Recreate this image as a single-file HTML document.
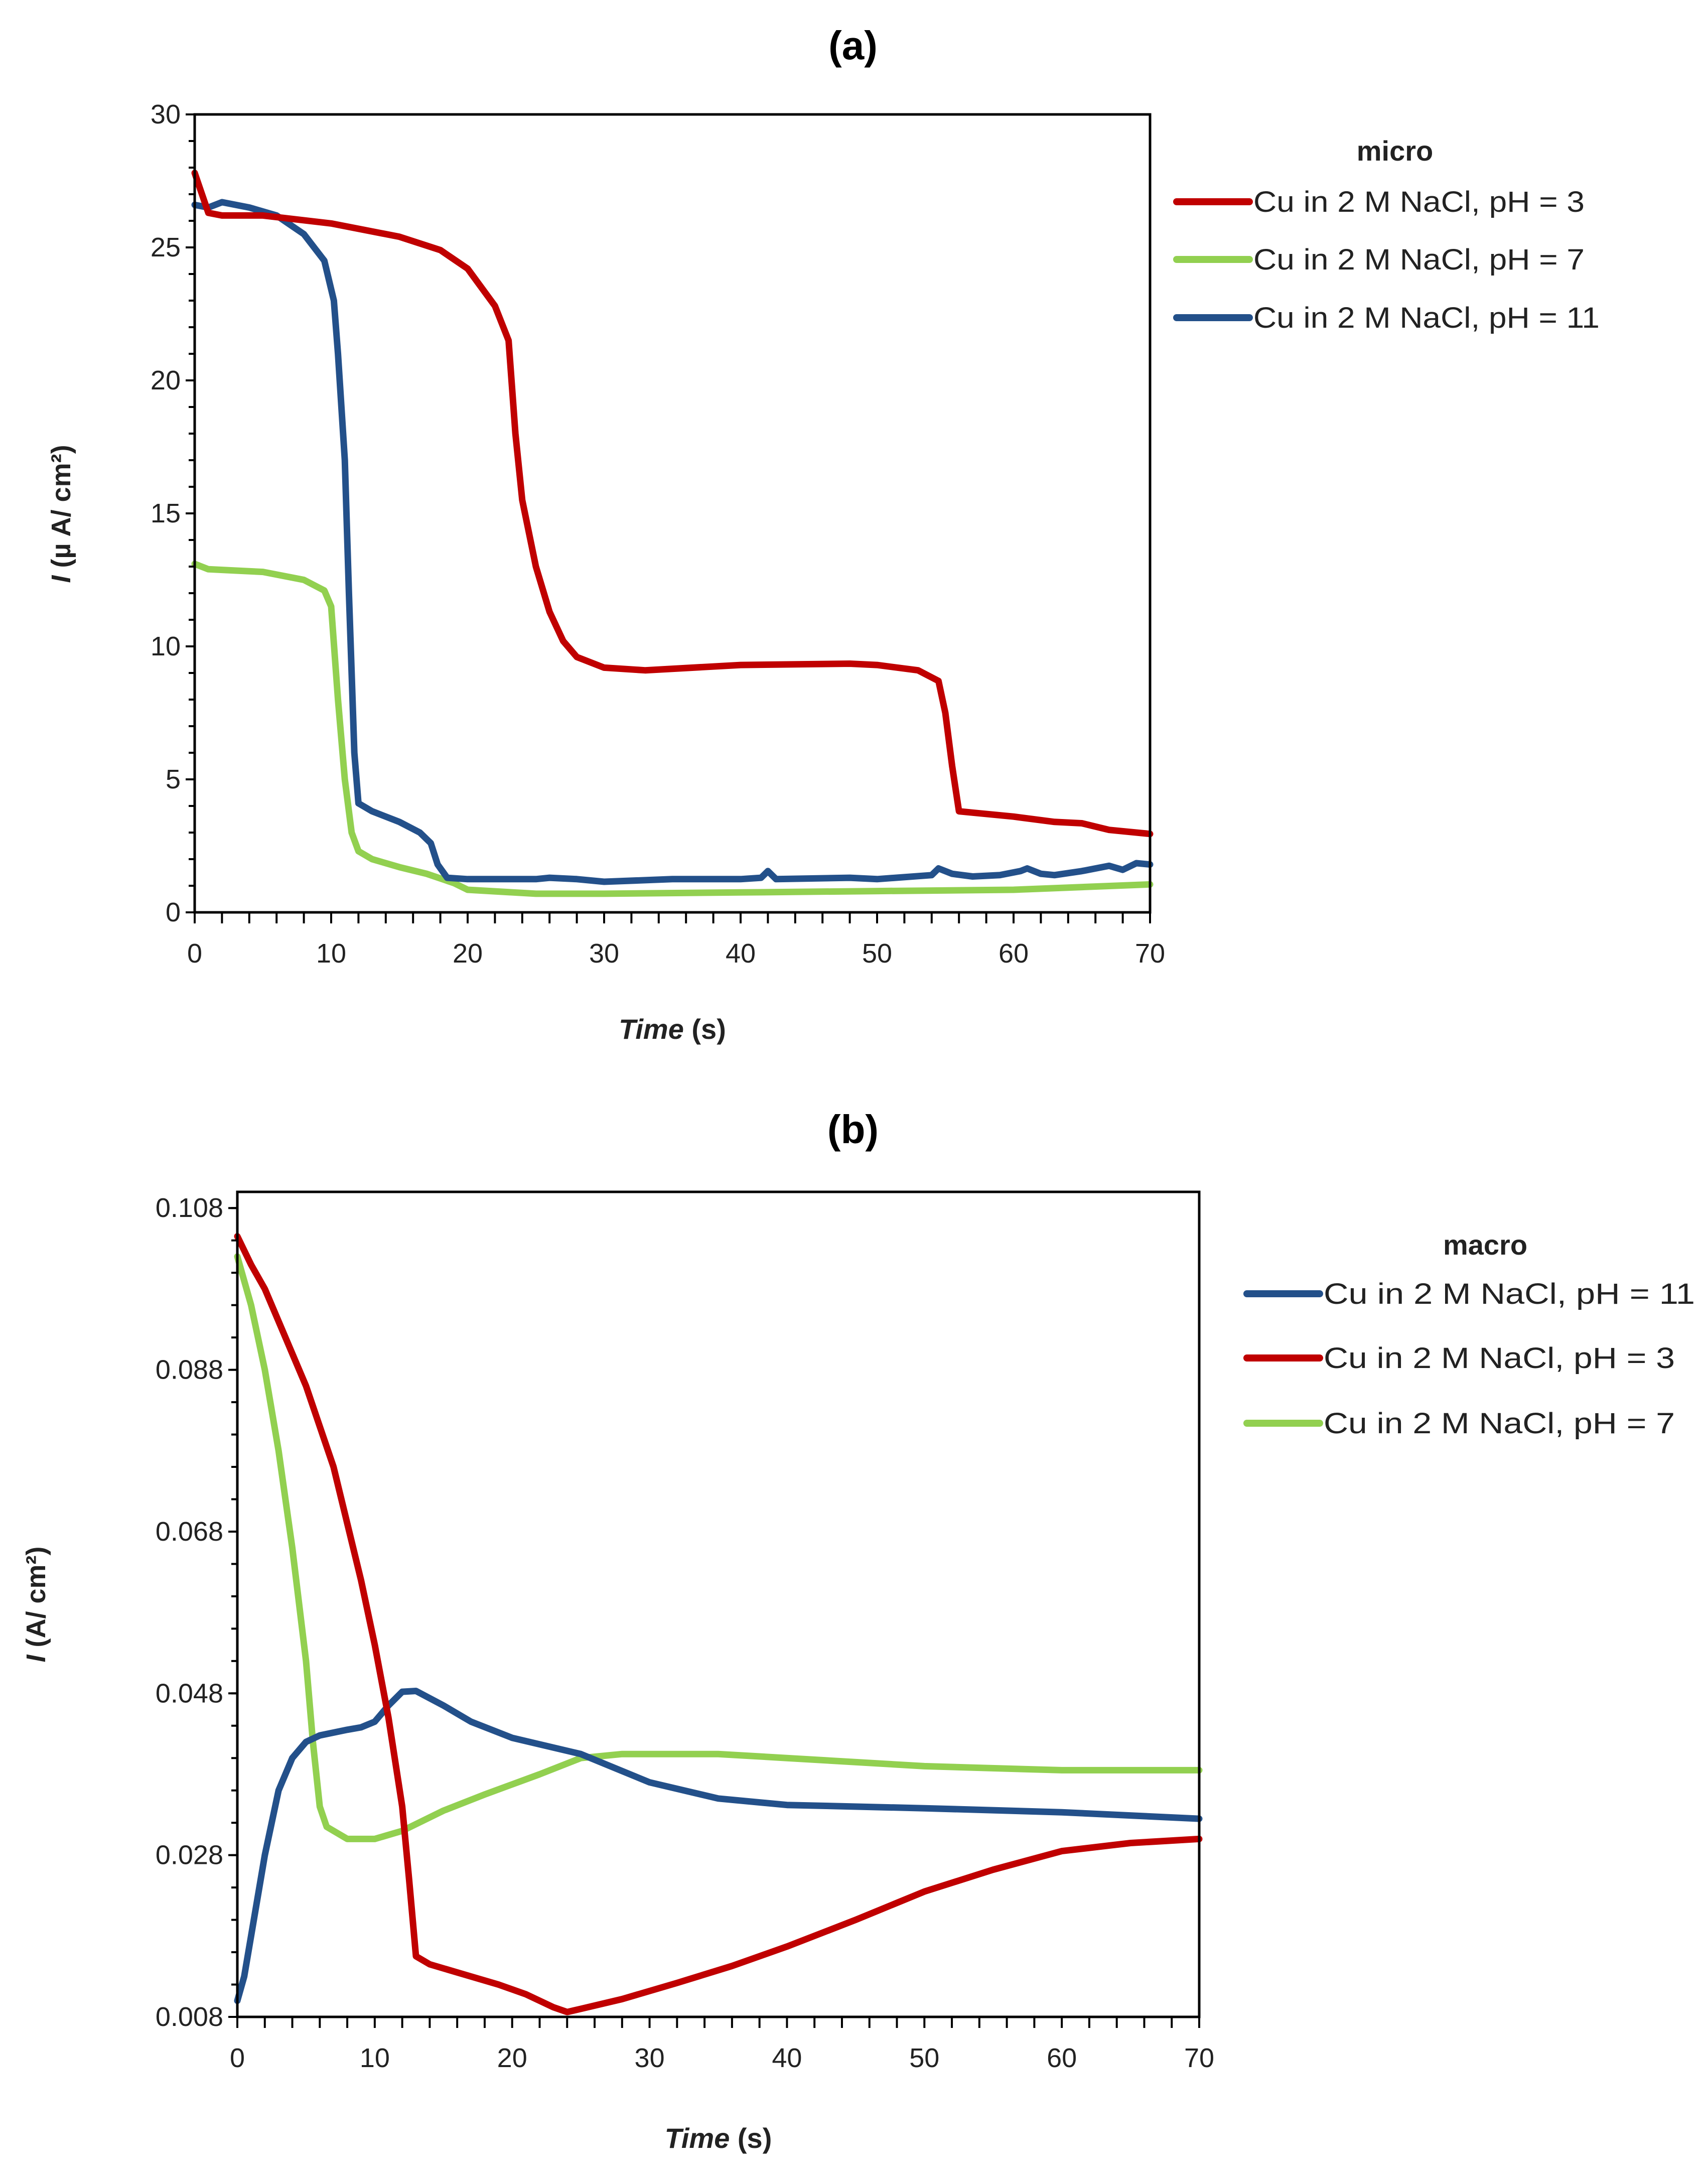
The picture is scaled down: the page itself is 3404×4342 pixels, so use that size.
<!DOCTYPE html>
<html><head><meta charset="utf-8"><style>
html,body{margin:0;padding:0;background:#fff;}
svg{display:block;}
text{font-family:"Liberation Sans",sans-serif;}
</style></head><body>
<svg id="fig" width="3404" height="4342" viewBox="0 0 3404 4342" xmlns="http://www.w3.org/2000/svg">
<rect width="3404" height="4342" fill="#fff"/>
</svg>
<script>
// ---- Chart (a) data ----
const aRedX=[0,1,2,5,10,15,18,20,22,23,23.5,24,25,26,27,28,30,33,40,48,50,53,54.5,55,55.5,56,57,60,63,65,67,70];
const aRedY=[27.8,26.3,26.2,26.2,25.9,25.4,24.9,24.2,22.8,21.5,18,15.5,13,11.3,10.2,9.6,9.2,9.1,9.3,9.35,9.3,9.1,8.7,7.5,5.5,3.8,3.75,3.6,3.4,3.35,3.1,2.95];
const aBlueX=[0,1,2,4,6,8,9.5,10.2,10.5,11,11.3,11.7,12,13,15,16.5,17.3,17.8,18.5,20,25,26,28,30,35,40,41.5,42,42.6,48,50,54,54.5,55.5,57,59,60.5,61,62,63,65,67,68,69,70];
const aBlueY=[26.6,26.5,26.7,26.5,26.2,25.5,24.5,23,21,17,12,6,4.1,3.8,3.4,3.0,2.6,1.8,1.3,1.25,1.25,1.3,1.25,1.15,1.25,1.25,1.3,1.55,1.25,1.3,1.25,1.4,1.65,1.45,1.35,1.4,1.55,1.65,1.45,1.4,1.55,1.75,1.6,1.85,1.8];
const aGreenX=[0,1,5,8,9.5,10,10.5,11,11.5,12,13,15,17,19,20,25,30,40,50,60,70];
const aGreenY=[13.1,12.9,12.8,12.5,12.1,11.5,8,5,3,2.3,2.0,1.7,1.45,1.1,0.85,0.7,0.7,0.75,0.8,0.85,1.05];
const aYTicks=[0,5,10,15,20,25,30];
const aXTicks=[0,10,20,30,40,50,60,70];
const aLegend=["Cu in 2 M NaCl, pH = 3","Cu in 2 M NaCl, pH = 7","Cu in 2 M NaCl, pH = 11"];
// ---- Chart (b) data ----
const bBlueX=[0,0.5,1,2,3,4,5,6,8,9,10,11,12,13,15,17,20,25,30,35,40,50,60,70];
const bBlueY=[0.010,0.013,0.018,0.028,0.036,0.040,0.042,0.0428,0.0435,0.0438,0.0445,0.0465,0.0482,0.0483,0.0465,0.0445,0.0425,0.0405,0.037,0.035,0.0342,0.0338,0.0333,0.0325];
const bRedX=[0,1,2,3,5,7,9,10,11,12,12.5,13,14,16,19,21,23,24,25,28,32,36,40,45,50,55,60,65,70];
const bRedY=[0.1045,0.101,0.098,0.094,0.086,0.076,0.062,0.054,0.045,0.034,0.025,0.0155,0.0145,0.0135,0.012,0.0108,0.0092,0.0086,0.009,0.0102,0.0122,0.0143,0.0167,0.020,0.0235,0.0262,0.0285,0.0295,0.030];
const bGreenX=[0,1,2,3,4,5,5.5,6,6.5,8,10,12,15,18,22,25,28,35,40,50,60,70];
const bGreenY=[0.102,0.096,0.088,0.078,0.066,0.052,0.042,0.034,0.0315,0.030,0.030,0.031,0.0335,0.0355,0.038,0.040,0.0405,0.0405,0.040,0.039,0.0385,0.0385];
const bYTicks=[0.008,0.028,0.048,0.068,0.088,0.108];
const bXTicks=[0,10,20,30,40,50,60,70];
const bLegend=["Cu in 2 M NaCl, pH = 11","Cu in 2 M NaCl, pH = 3","Cu in 2 M NaCl, pH = 7"];

const RED="#c00000",GREEN="#92d050",BLUE="#23508a";
const NS="http://www.w3.org/2000/svg";
const svg=document.getElementById('fig');
function mk(tag,attrs,parent){const e=document.createElementNS(NS,tag);for(const k in attrs)e.setAttribute(k,attrs[k]);(parent||svg).appendChild(e);return e;}
function txt(s,attrs,parent){const e=mk('text',attrs,parent);e.textContent=s;return e;}

function chart(cfg){
  const g=mk('g',{});
  
  
  const sx=v=>cfg.L+(v-cfg.x0)/(cfg.x1-cfg.x0)*(cfg.R-cfg.L);
  const sy=v=>cfg.B-(v-cfg.y0)/(cfg.y1-cfg.y0)*(cfg.B-cfg.T);
  cfg.series.forEach(s=>{
    const p=s.x.map((x,i)=>sx(x).toFixed(1)+','+sy(s.y[i]).toFixed(1)).join(' ');
    const pl=mk('polyline',{points:p,fill:'none',stroke:s.color,'stroke-width':13,'stroke-linejoin':'round','stroke-linecap':'round'},g);
    
    
  });
  const fr=mk('rect',{x:cfg.L,y:cfg.T,width:cfg.R-cfg.L,height:cfg.B-cfg.T,fill:'none',stroke:'#000','stroke-width':5},g);
  
  
  for(let v=cfg.y0;v<=cfg.y1+1e-9;v+=cfg.yMinor){mk('line',{x1:cfg.L-12,x2:cfg.L,y1:sy(v),y2:sy(v),stroke:'#000','stroke-width':4},g);}
  for(let v=cfg.x0;v<=cfg.x1+1e-9;v+=cfg.xMinor){mk('line',{x1:sx(v),x2:sx(v),y1:cfg.B,y2:cfg.B+22,stroke:'#000','stroke-width':4},g);}
  cfg.yTicks.forEach(v=>{
    mk('line',{x1:cfg.L-18,x2:cfg.L,y1:sy(v),y2:sy(v),stroke:'#000','stroke-width':4},g);
    const t=txt(cfg.yFmt(v),{x:cfg.L-28,y:sy(v)+18,'text-anchor':'end','font-size':54,fill:'#222'},g);
    
    
  });
  cfg.xTicks.forEach(v=>{
    const t=txt(String(v),{x:sx(v),y:cfg.B+100,'text-anchor':'middle','font-size':54,fill:'#222'},g);
    
    
  });
  const xt=txt('',{x:(cfg.L+cfg.R)/2,y:cfg.xTitleY,'text-anchor':'middle','font-size':56,'font-weight':'bold',fill:'#222'},g);
  xt.innerHTML='<tspan font-style="italic">Time</tspan> (s)';
  
  
  const yt=txt('',{transform:`translate(${cfg.yTitleX},${cfg.yTitleY}) rotate(-90)`,'text-anchor':'middle','font-size':54,'font-weight':'bold',fill:'#222'},g);
  yt.innerHTML=cfg.yTitle;
  
  
  const pt=txt(cfg.panel,{x:1700,y:cfg.panelY,'text-anchor':'middle','font-size':80,'font-weight':'bold','font-family':'Liberation Serif, serif',fill:'#000'},g);
  
  
  const lg=mk('g',{},g);
  
  
  txt(cfg.legTitle,{x:cfg.legTitleX,y:cfg.legTitleY,'text-anchor':'middle','font-size':56,'font-weight':'bold',fill:'#222'},lg);
  cfg.legend.forEach((name,i)=>{
    const y=cfg.legY[i];
    const ln=mk('line',{x1:cfg.legX1,x2:cfg.legX2,y1:y,y2:y,stroke:cfg.legColors[i],'stroke-width':14,'stroke-linecap':'round'},lg);
    
    
    const t=txt(name,{x:cfg.legX2+8,y:y+20,'font-size':58,fill:'#222',textLength:cfg.legLen[i],lengthAdjust:'spacingAndGlyphs'},lg);
    
    
  });
}

chart({name:'chart-a-micro',L:388,R:2292,T:228,B:1818,x0:0,x1:70,y0:0,y1:30,xMinor:2,yMinor:1,
  yTicks:aYTicks,xTicks:aXTicks,yFmt:v=>String(v),
  series:[{x:aGreenX,y:aGreenY,color:GREEN,name:'series-ph7'},{x:aBlueX,y:aBlueY,color:BLUE,name:'series-ph11'},{x:aRedX,y:aRedY,color:RED,name:'series-ph3'}],
  xTitleY:2070,yTitleX:140,yTitleY:1024,yTitle:'<tspan font-style="italic">I</tspan> (µ A/ cm²)',
  panel:'(a)',panelY:118,
  legTitle:'micro',legTitleX:2780,legTitleY:320,legend:aLegend,legY:[402,517,633],legX1:2345,legX2:2490,
  legColors:[RED,GREEN,BLUE],legLen:[660,660,690]});

chart({name:'chart-b-macro',L:473,R:2390,T:2375,B:4019,x0:0,x1:70,y0:0.008,y1:0.110,xMinor:2,yMinor:0.004,
  yTicks:bYTicks,xTicks:bXTicks,yFmt:v=>v.toFixed(3),
  series:[{x:bGreenX,y:bGreenY,color:GREEN,name:'series-ph7'},{x:bBlueX,y:bBlueY,color:BLUE,name:'series-ph11'},{x:bRedX,y:bRedY,color:RED,name:'series-ph3'}],
  xTitleY:4280,yTitleX:90,yTitleY:3197,yTitle:'<tspan font-style="italic">I</tspan> (A/ cm²)',
  panel:'(b)',panelY:2278,
  legTitle:'macro',legTitleX:2960,legTitleY:2500,legend:bLegend,legY:[2578,2706,2836],legX1:2485,legX2:2630,
  legColors:[BLUE,RED,GREEN],legLen:[740,700,700]});
</script>
</body></html>
